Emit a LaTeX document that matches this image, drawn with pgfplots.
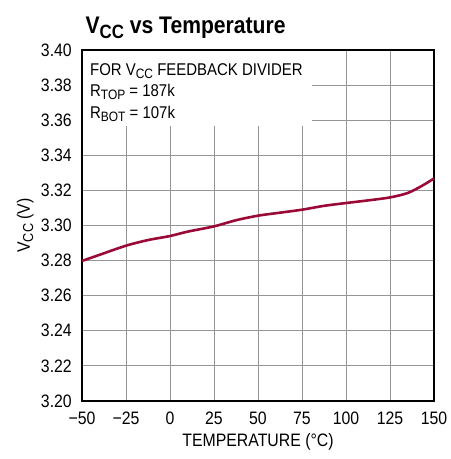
\documentclass[border=0pt]{standalone}
\usepackage{fontspec}
\setmainfont{Liberation Sans}[FakeStretch=0.88]
\usepackage{pgfplots}
\pgfplotsset{compat=1.18}
\usetikzlibrary{calc}
\definecolor{curve}{RGB}{155,10,55}
\definecolor{gridc}{RGB}{150,150,150}
\newcommand\sub[1]{\raisebox{-0.32ex}{\scalebox{0.8}{#1}}}
\begin{document}
\begin{tikzpicture}
\begin{axis}[
  scale only axis, width=352bp, height=351bp,
  xmin=-50, xmax=150, ymin=3.20, ymax=3.40,
  xtick={-50,-25,0,25,50,75,100,125,150},
  xticklabels={−50,−25,0,25,50,75,100,125,150},
  ytick={3.20,3.22,3.24,3.26,3.28,3.30,3.32,3.34,3.36,3.38,3.40},
  yticklabels={3.20,3.22,3.24,3.26,3.28,3.30,3.32,3.34,3.36,3.38,3.40},
  grid=major,
  grid style={draw=gridc, line width=0.9bp},
  axis line style={line width=1.3bp},
  major tick length=5bp,
  tick style={draw=gridc, line width=0.9bp},
  tick align=inside,
  ticklabel style={font=\fontsize{18bp}{18bp}\selectfont},
  xticklabel style={anchor=base, yshift=-23bp, inner sep=0pt},
  yticklabel style={anchor=east, inner sep=0pt, xshift=-10bp},
  xlabel={TEMPERATURE (°C)},
  ylabel={V\sub{CC} (V)},
  label style={font=\fontsize{18bp}{18bp}\selectfont},
  xlabel style={at={(axis description cs:0.5,0)}, anchor=base, yshift=-45bp},
  ylabel style={at={(axis description cs:0,0.5)}, anchor=base, yshift=52bp},
  clip=false,
]
\coordinate (O) at (rel axis cs:0,0);
\fill[white] (axis cs:-49.6,3.3995) rectangle (axis cs:80.7,3.3565);
\addplot[curve, line width=2.6bp, smooth, tension=0.5] coordinates {
  (-50,3.2798) (-40,3.2833) (-25,3.2885) (-12.5,3.2917) (0,3.2940) (10,3.2965)
  (25,3.2995) (37.5,3.3030) (50,3.3056) (62.5,3.3073) (75,3.3090) (87.5,3.3112)
  (100,3.3128) (112.5,3.3143) (125,3.3160) (135,3.3185) (143,3.3225) (150,3.3268)
};
\node[anchor=north west, align=left, inner sep=0pt, font=\fontsize{17bp}{21.5bp}\selectfont]
  at (axis cs:-45.5,3.3925) {FOR V\sub{CC} FEEDBACK DIVIDER\\R\sub{TOP} = 187k\\R\sub{BOT} = 107k};
\end{axis}
\node[anchor=base west, font=\bfseries\fontsize{24bp}{24bp}\selectfont] at ($(O)+(0bp,367bp)$) {V\sub{CC} vs Temperature};
\pgfresetboundingbox
\useasboundingbox ($(O)+(-82bp,-58bp)$) rectangle ($(O)+(369bp,401bp)$);
\end{tikzpicture}
\end{document}
